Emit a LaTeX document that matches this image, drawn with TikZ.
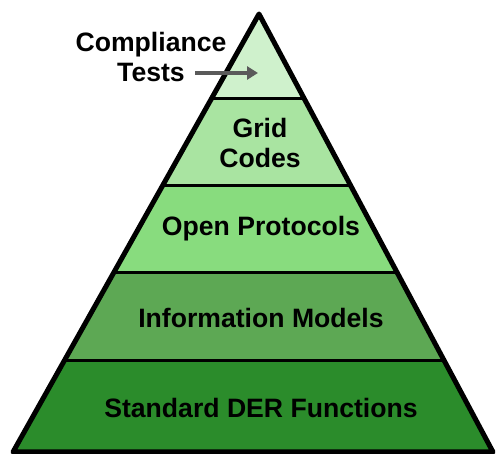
\documentclass[tikz,border=0pt]{standalone}
\usepackage{fontspec}
\setmainfont{Liberation Sans}
\usetikzlibrary{calc,arrows.meta}
\definecolor{tierA}{HTML}{CFF1CC}
\definecolor{tierB}{HTML}{A9E4A1}
\definecolor{tierC}{HTML}{88DC7E}
\definecolor{tierD}{HTML}{5DA854}
\definecolor{tierE}{HTML}{2B8C2B}
\definecolor{arrowgray}{HTML}{5A5A5A}
\tikzset{
  lbl/.style={font=\bfseries\fontsize{26.6}{30}\selectfont, align=center, inner sep=0pt, text=black},
  divider/.style={line width=3pt, black},
  outline/.style={line width=5pt, black, line join=round},
  pointer/.style={line width=4pt, arrowgray, -{Triangle[length=11pt,width=13pt]}}
}
\begin{document}
\begin{tikzpicture}[x=1pt,y=-1pt]
\useasboundingbox (0,0) rectangle (496,454);
\coordinate (A) at (259,14);
\coordinate (L) at (13,452);
\coordinate (R) at (493,452);
\foreach \t/\n in {0.1918/1,0.3916/2,0.5913/3,0.7922/4}{
  \coordinate (l\n) at ($(A)!\t!(L)$);
  \coordinate (r\n) at ($(A)!\t!(R)$);
}
\fill[tierA] (A) -- (l1) -- (r1) -- cycle;
\fill[tierB] (l1) -- (l2) -- (r2) -- (r1) -- cycle;
\fill[tierC] (l2) -- (l3) -- (r3) -- (r2) -- cycle;
\fill[tierD] (l3) -- (l4) -- (r4) -- (r3) -- cycle;
\fill[tierE] (l4) -- (L) -- (R) -- (r4) -- cycle;
\foreach \n in {1,2,3,4}{ \draw[divider] (l\n) -- (r\n); }
\draw[outline] (A) -- (L) -- (R) -- cycle;
\node[lbl] (ct) at (151,57) {Compliance\\Tests};
\coordinate (tip) at (258,73);
\node[lbl] (gc) at (260,143) {Grid\\Codes};
\node[lbl] (op) at (261,229) {Open Protocols};
\node[lbl] (im) at (261,318) {Information Models};
\node[lbl] (sd) at (261,408) {Standard DER Functions};
\draw[pointer] (195,73) -- (tip);
\end{tikzpicture}
\end{document}
